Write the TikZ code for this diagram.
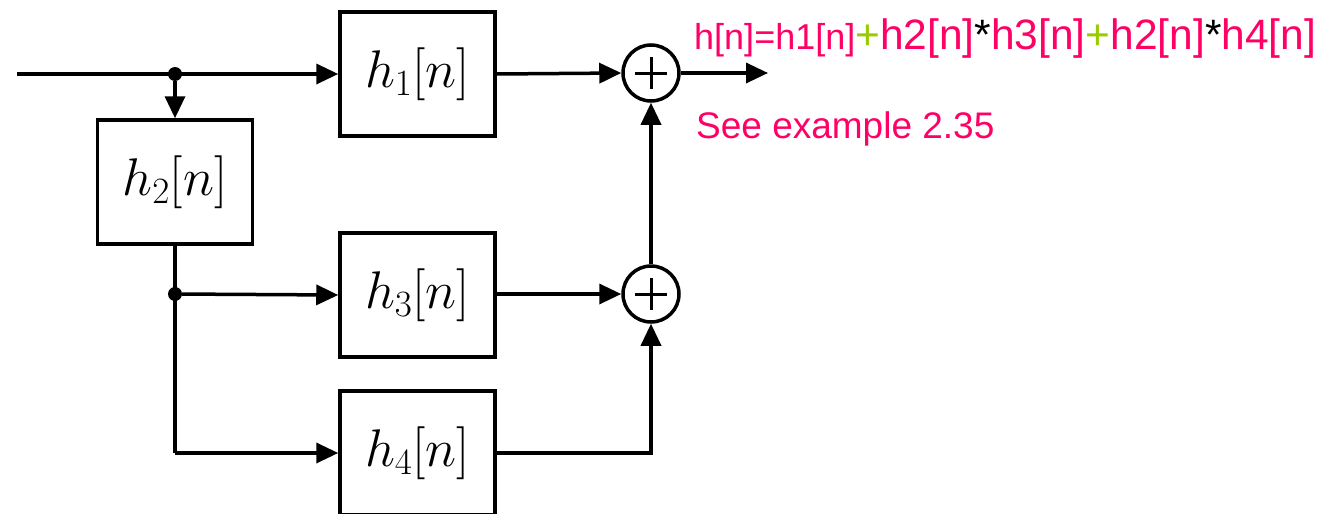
\RequirePackage{fix-cm}
\documentclass[tikz,border=0pt]{standalone}
\usepackage{fontspec}
\newfontfamily\arial{Liberation Sans}
\usetikzlibrary{arrows.meta}
\definecolor{pk}{RGB}{255,0,102}
\definecolor{gr}{RGB}{153,204,0}
\tikzset{
  wire/.style={line width=3.5pt},
  arr/.style={wire,-{Triangle[length=22pt,width=20pt]}},
  blk/.style={draw,line width=3.5pt,minimum width=155pt,minimum height=124pt,inner sep=0pt,
    font=\fontsize{53}{53}\selectfont},
  sum/.style={draw,circle,line width=3.5pt,minimum size=56pt,inner sep=0pt},
  dot/.style={circle,fill,inner sep=0pt,minimum size=14pt},
  plus/.style={line width=3pt},
  eq/.style={anchor=base west,inner sep=0pt,text=pk},
}
\newcommand{\eqsmall}{\fontsize{36}{36}\selectfont}
\newcommand{\eqlarge}{\fontsize{42.5}{42.5}\selectfont}
\begin{document}
\begin{tikzpicture}[x=1pt,y=-1pt]
\useasboundingbox (0,0) rectangle (1334,514);
% blocks
\node[blk] (h1) at (417.5,74) {$h_1[n]$};
\node[blk] (h2) at (175,182) {$h_2[n]$};
\node[blk] (h3) at (417.5,295) {$h_3[n]$};
\node[blk] (h4) at (417.5,453) {$h_4[n]$};
% adders
\node[sum] (s1) at (651,73) {};
\node[sum] (s2) at (651,294) {};
\foreach \s in {s1,s2}{
  \draw[plus] (\s.center) +(-16,0) -- +(16,0);
  \draw[plus] (\s.center) +(0,-16) -- +(0,16);
}
% branch points
\node[dot] (j1) at (175,74) {};
\node[dot] (j2) at (175,294) {};
\coordinate (in) at (17,74);
\coordinate (c4) at (175,453);
\coordinate (out) at (768,73);
% connectors
\draw[arr] (in) -- (h1.west);
\draw[arr] (j1) -- (h2.north);
\draw[wire] (h2.south) -- (c4);
\draw[arr] (c4) -- (h4.west);
\draw[arr] (j2) -- (h3.west);
\draw[arr] (h1.east) -- (s1.west);
\draw[arr] (h3.east |- s2) -- (s2.west);
\draw[arr] (h4.east) -| (s2.south);
\draw[arr] (s2.north) -- (s1.south);
\draw[arr] (s1.east) -- (out);
% annotations
\node[eq] (eqn) at (694,49) {\arial{\eqsmall h[n]=h1[n]}{\eqlarge\textcolor{gr}{+}h2[n]\textcolor{black}{*}h3[n]\textcolor{gr}{+}h2[n]\textcolor{black}{*}h4[n]}};
\node[eq] (note) at (696,138) {\arial\fontsize{37}{37}\selectfont See example 2.35};
\end{tikzpicture}
\end{document}
